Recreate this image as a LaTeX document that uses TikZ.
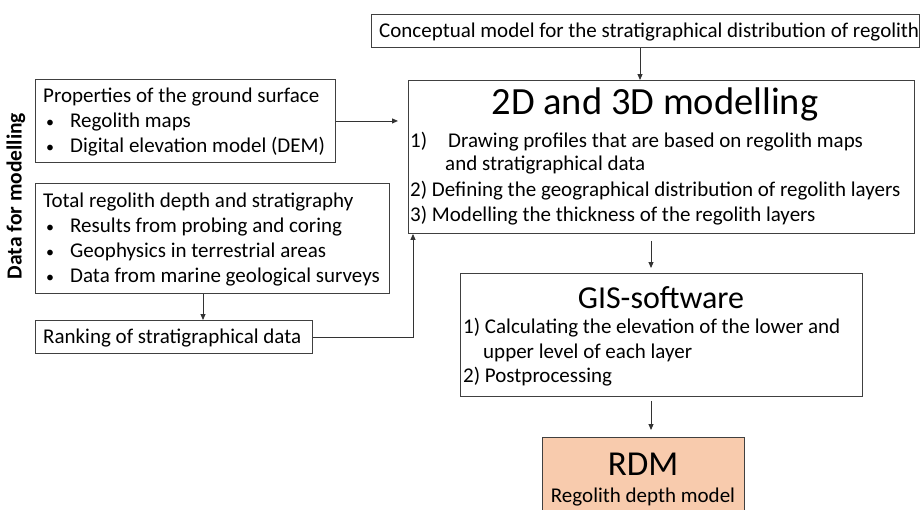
\documentclass[tikz,border=0pt]{standalone}
\usepackage{fontspec}
\setmainfont{Carlito}
\usetikzlibrary{arrows.meta}
\begin{document}
\begin{tikzpicture}[x=1pt,y=-1pt,
  box/.style={draw=black!75, line width=0.9pt, anchor=north west, inner sep=0pt},
  txt/.style={anchor=base west, inner sep=0pt, font=\fontsize{21}{25}\selectfont},
  bul/.style={anchor=base west, inner sep=0pt, font=\fontsize{16}{25}\selectfont},
  ttl/.style={anchor=base, inner sep=0pt},
  arr/.style={draw=black!80, line width=0.9pt, -{Triangle[length=6pt,width=5pt]}}]
\useasboundingbox (0,0) rectangle (921,509);
\fill[white] (0,0) rectangle (921,509);
\definecolor{peach}{HTML}{F8CBAD}
% boxes
\node[box, minimum width=548pt, minimum height=33pt] (concept) at (371,14) {};
\node[box, minimum width=506pt, minimum height=153pt] (model2d) at (408,80) {};
\node[box, minimum width=300pt, minimum height=83pt] (props) at (35,79) {};
\node[box, minimum width=354pt, minimum height=110pt] (total) at (35,183) {};
\node[box, minimum width=277pt, minimum height=33pt] (rank) at (35,320) {};
\node[box, minimum width=402pt, minimum height=123pt] (gis) at (460,273) {};
\node[box, fill=peach, minimum width=202pt, minimum height=90pt] (rdm) at (542,437) {};
% texts
\node[txt] (tconcept) at (379,37) {Conceptual model for the stratigraphical distribution of regolith};
\node[ttl, font=\fontsize{38.5}{40}\selectfont] (t2d) at (655,114) {2D and 3D modelling};
\node[txt] (t2a) at (410,147) {1)};
\node[txt] (t2b) at (448,147) {Drawing profiles that are based on regolith maps};
\node[txt] (t2c) at (445,170) {and stratigraphical data};
\node[txt] (t2d2) at (410,196) {2) Defining the geographical distribution of regolith layers};
\node[txt] (t2e) at (410,221) {3) Modelling the thickness of the regolith layers};
\node[txt] (tp1) at (43,102) {Properties of the ground surface};
\node[bul] (tp2) at (46,127) {•};
\node[txt] (tp3) at (70,127) {Regolith maps};
\node[bul] (tp4) at (46,152) {•};
\node[txt] (tp5) at (70,152) {Digital elevation model (DEM)};
\node[txt] (tt1) at (43,207) {Total regolith depth and stratigraphy};
\node[bul] (tt2) at (46,232) {•};
\node[txt] (tt3) at (70,232) {Results from probing and coring};
\node[bul] (tt4) at (46,257) {•};
\node[txt] (tt5) at (70,257) {Geophysics in terrestrial areas};
\node[bul] (tt6) at (46,282) {•};
\node[txt] (tt7) at (70,282) {Data from marine geological surveys};
\node[txt] (tr) at (43,343) {Ranking of stratigraphical data};
\node[ttl, font=\fontsize{32}{34}\selectfont] (tg) at (661,308) {GIS-software};
\node[txt] (tg1) at (463,333) {1) Calculating the elevation of the lower and};
\node[txt] (tg2) at (483,358) {upper level of each layer};
\node[txt] (tg3) at (463,382) {2) Postprocessing};
\node[ttl, font=\fontsize{35}{38}\selectfont] (trdm) at (643,475) {RDM};
\node[ttl, font=\fontsize{21}{25}\selectfont] (trdm2) at (643,502) {Regolith depth model};
\node[rotate=90, inner sep=0pt, font=\fontsize{21.5}{25}\selectfont\bfseries] (side) at (16,196) {Data for modelling};
% connectors
\coordinate (cx) at (640,0);
\draw[arr] (cx |- concept.south) -- (cx |- model2d.north);
\draw[arr, shorten >=10pt] (props.east) -- (props.east -| model2d.west);
\coordinate (tx) at (203,0);
\draw[arr] (tx |- total.south) -- (tx |- rank.north);
\coordinate (rx) at (413,0);
\draw[arr] (rank.east) -| (rx |- model2d.south);
\coordinate (gx) at (651,0);
\draw[arr, shorten <=7pt, shorten >=5pt] (gx |- model2d.south) -- (gx |- gis.north);
\draw[arr, shorten <=4pt, shorten >=7pt] (gx |- gis.south) -- (gx |- rdm.north);
\end{tikzpicture}
\end{document}
